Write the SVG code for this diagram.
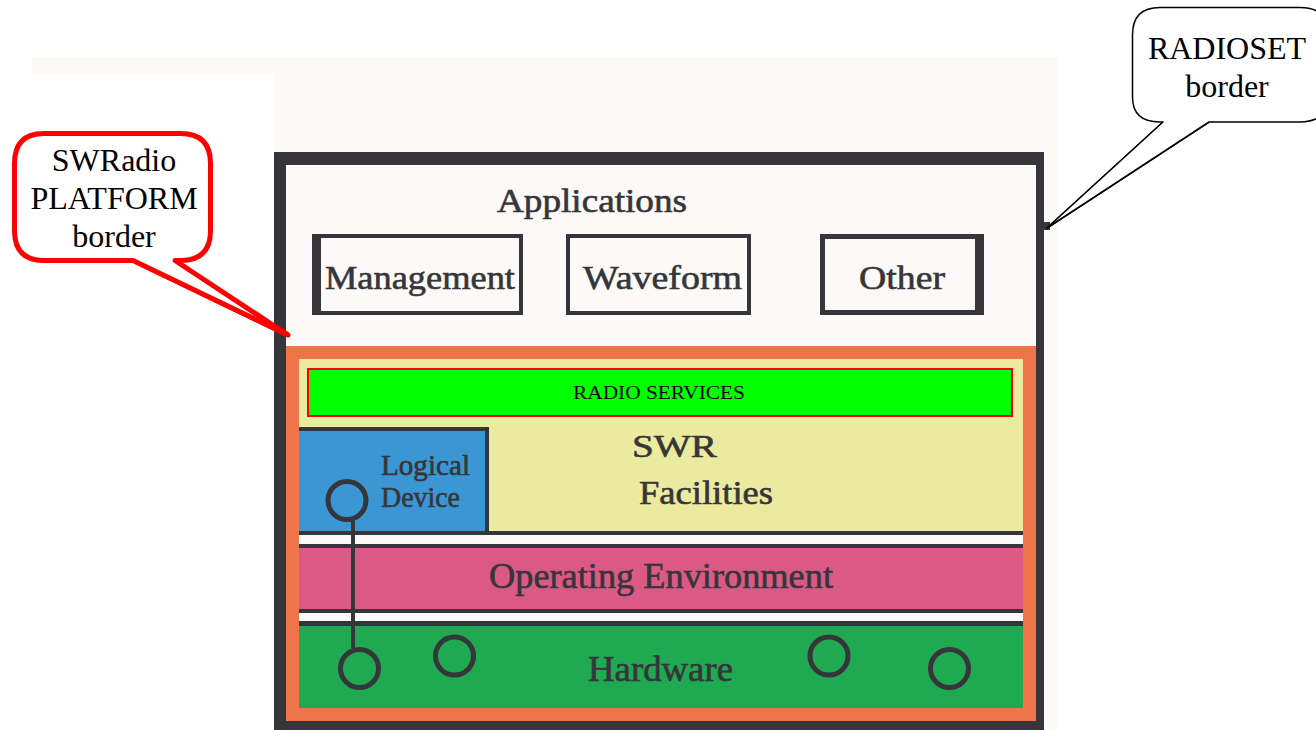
<svg xmlns="http://www.w3.org/2000/svg" width="1316" height="730" viewBox="0 0 1316 730">
<style>
.pix{font-family:"Liberation Serif","Times New Roman",serif;fill:#36353a;stroke:#36353a;stroke-width:0.6;}
.call{font-family:"Liberation Serif","Times New Roman",serif;fill:#000;font-size:32px;text-anchor:middle;}
.frame{fill:none;stroke:#36353a;}
.circ{fill:none;stroke:#36353a;stroke-width:5;}
</style>
<rect x="0" y="0" width="1316" height="730" fill="#ffffff"/>
<rect x="32" y="57" width="1026" height="17" fill="#fbfaf8"/>
<rect x="274" y="57" width="784" height="673" fill="#fbfaf8"/>

<g id="radioset-frame">
  <rect x="274" y="152" width="770" height="13" fill="#36353a"/>
  <rect x="274" y="152" width="12" height="578" fill="#36353a"/>
  <rect x="1036" y="152" width="8" height="578" fill="#36353a"/>
  <rect x="274" y="720" width="770" height="10" fill="#36353a"/>
</g>

<g id="applications">
  <text class="pix" x="497" y="212" font-size="34" textLength="190" lengthAdjust="spacingAndGlyphs">Applications</text>
</g>
<g id="management">
  <rect x="314" y="236" width="207" height="77" class="frame" stroke-width="4"/>
  <rect x="312" y="234" width="9" height="81" fill="#36353a"/>
  <text class="pix" x="325" y="289" font-size="34" textLength="190" lengthAdjust="spacingAndGlyphs">Management</text>
</g>
<g id="waveform">
  <rect x="568" y="236" width="181" height="77" class="frame" stroke-width="4"/>
  <text class="pix" x="583" y="289" font-size="34" textLength="159" lengthAdjust="spacingAndGlyphs">Waveform</text>
</g>
<g id="other">
  <rect x="822.5" y="236.5" width="157" height="76" class="frame" stroke-width="5"/>
  <rect x="975" y="234" width="9" height="81" fill="#36353a"/>
  <text class="pix" x="859" y="289" font-size="34" textLength="86" lengthAdjust="spacingAndGlyphs">Other</text>
</g>

<g id="platform">
  <rect x="292.5" y="352.5" width="737" height="362" fill="#ebeb9f" stroke="#ef7447" stroke-width="13"/>
</g>

<g id="radio-services">
  <rect x="308" y="369" width="704" height="47" fill="#00ff00" stroke="#ff0000" stroke-width="2"/>
  <text x="573" y="399" font-family="Liberation Serif, Times New Roman, serif" font-size="19" fill="#000" textLength="172" lengthAdjust="spacingAndGlyphs">RADIO SERVICES</text>
</g>

<g id="swr-facilities">
  <text class="pix" x="632" y="457" font-size="32" textLength="85" lengthAdjust="spacingAndGlyphs">SWR</text>
  <text class="pix" x="639" y="504" font-size="33" textLength="134" lengthAdjust="spacingAndGlyphs">Facilities</text>
</g>

<g id="logical-device">
  <rect x="299" y="427" width="190" height="106" fill="#3b97d3"/>
  <rect x="299" y="427" width="190" height="4" fill="#36353a"/>
  <rect x="485" y="427" width="4" height="106" fill="#36353a"/>
  <text class="pix" x="381" y="475" font-size="29" textLength="89" lengthAdjust="spacingAndGlyphs">Logical</text>
  <text class="pix" x="381" y="507" font-size="29" textLength="79" lengthAdjust="spacingAndGlyphs">Device</text>
</g>

<g id="separators">
  <rect x="299" y="531" width="724" height="4" fill="#36353a"/>
  <rect x="299" y="535" width="724" height="9" fill="#fbfaf8"/>
  <rect x="299" y="544" width="724" height="4" fill="#36353a"/>
  <rect x="299" y="609" width="724" height="4" fill="#36353a"/>
  <rect x="299" y="613" width="724" height="8" fill="#fbfaf8"/>
  <rect x="299" y="621" width="724" height="5" fill="#36353a"/>
</g>

<g id="operating-environment">
  <rect x="299" y="548" width="724" height="61" fill="#db5985"/>
  <text class="pix" x="489" y="588" font-size="36" textLength="344" lengthAdjust="spacingAndGlyphs">Operating Environment</text>
</g>

<g id="hardware">
  <rect x="299" y="626" width="724" height="82" fill="#1fa950"/>
  <text class="pix" x="588" y="681" font-size="35" textLength="145" lengthAdjust="spacingAndGlyphs">Hardware</text>
</g>

<g id="connectors">
  <line x1="353" y1="521" x2="353" y2="648" stroke="#36353a" stroke-width="4"/>
  <path d="M164,260 L288,335 L133,260" fill="none" stroke="#ff0000" stroke-width="5"/>
  <path d="M1163,122 L1047,228 L1209,122" fill="none" stroke="#000" stroke-width="1.5"/>
  <rect x="1044" y="222" width="6" height="8" fill="#36353a"/>
</g>

<g id="ports">
  <circle cx="347" cy="500.5" r="19" class="circ" fill="#3b97d3"/>
  <circle cx="359.5" cy="668.5" r="19" class="circ"/>
  <circle cx="454.5" cy="656" r="19" class="circ"/>
  <circle cx="829" cy="656" r="19" class="circ"/>
  <circle cx="949.5" cy="668.5" r="19" class="circ"/>
</g>

<g id="swradio-callout">
  <path d="M44,133.5 L180.5,133.5 Q210.5,133.5 210.5,163.5 L210.5,230.5 Q210.5,260.5 180.5,260.5 L175,260.5 L288,335 L133,260.5 L44,260.5 Q14.5,260.5 14.5,230.5 L14.5,163.5 Q14.5,133.5 44,133.5 Z" fill="#ffffff" stroke="#ff0000" stroke-width="5" stroke-linejoin="round"/>
  <text class="call" x="114" y="171">SWRadio</text>
  <text class="call" x="114" y="209">PLATFORM</text>
  <text class="call" x="114" y="247">border</text>
</g>

<g id="radioset-callout">
  <path d="M1160,7.5 L1300,7.5 Q1330,7.5 1330,37.5 L1330,92 Q1330,122 1300,122 L1209,122 L1047,228 L1163,122 L1160,122 Q1132.5,122 1132.5,97 L1132.5,35 Q1132.5,7.5 1160,7.5 Z" fill="#ffffff" stroke="#000" stroke-width="1.5" stroke-linejoin="round"/>
  <text class="call" x="1227" y="59">RADIOSET</text>
  <text class="call" x="1227" y="97">border</text>
</g>
</svg>
